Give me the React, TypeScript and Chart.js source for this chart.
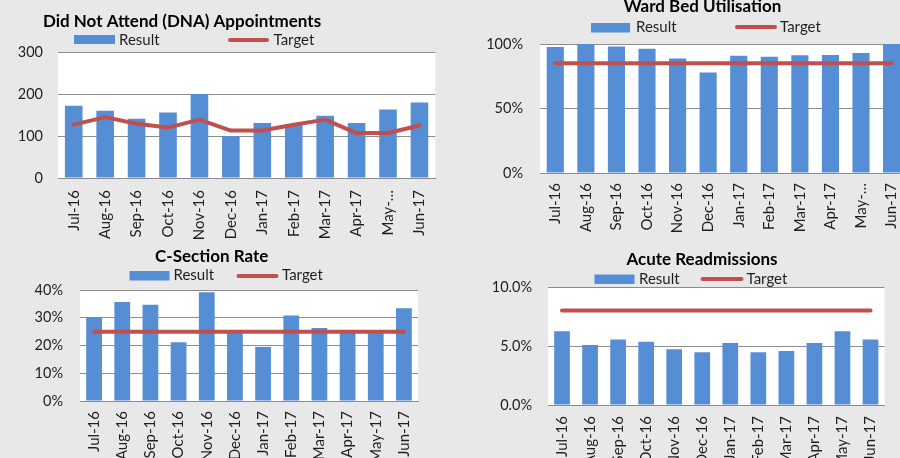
import React, { useEffect, useRef } from 'react';
import { Chart, registerables } from 'chart.js';

Chart.register(...registerables);

// ---------- data ----------
const categories = ['Jul-16', 'Aug-16', 'Sep-16', 'Oct-16', 'Nov-16', 'Dec-16', 'Jan-17', 'Feb-17', 'Mar-17', 'Apr-17', 'May-17', 'Jun-17'];
const tickLabelsTruncated = ['Jul-16', 'Aug-16', 'Sep-16', 'Oct-16', 'Nov-16', 'Dec-16', 'Jan-17', 'Feb-17', 'Mar-17', 'Apr-17', 'May-…', 'Jun-17'];

const dnaResult = [172, 160, 141, 156, 200, 100, 131, 128, 148, 131, 163, 180];
const dnaTarget = [127, 145, 129, 120, 139, 113, 113, 127, 139, 107, 107, 125];
const dnaTicks = [0, 100, 200, 300];

const bedResult = [97.7, 100, 98, 96.4, 88.8, 77.9, 90.9, 90.1, 91.2, 91.4, 93, 100];
const bedTarget = [85, 85, 85, 85, 85, 85, 85, 85, 85, 85, 85, 85];
const bedTicks = [0, 50, 100];

const csResult = [30.1, 35.7, 34.7, 21.2, 39.2, 25.6, 19.5, 30.8, 26.3, 24.6, 24.8, 33.4];
const csTarget = [25, 25, 25, 25, 25, 25, 25, 25, 25, 25, 25, 25];
const csTicks = [0, 10, 20, 30, 40];

const readmResult = [6.24, 5.08, 5.56, 5.37, 4.72, 4.47, 5.25, 4.47, 4.58, 5.25, 6.26, 5.56];
const readmTarget = [8, 8, 8, 8, 8, 8, 8, 8, 8, 8, 8, 8];
const readmTicks = [0, 5, 10];

// ---------- style ----------
const FONT = 'Lato, "Liberation Sans", sans-serif';
const BLUE = '#558ed5';
const RED = '#c0504d';
const GRID = '#8c8c8c';
const TEXT = '#1f1f1f';
const TITLE_SIZE = 17;
const LEGEND_SIZE = 15;
const XTICK_SIZE = 15;
const YTICK_SIZE = 14.5;

type Spec = {
  title: string;
  labels: string[];
  result: number[];
  target: number[];
  yTicks: number[];
  yFormat: (v: number) => string;
  canvas: { x: number; y: number; w: number; h: number };
  plot: { l: number; t: number; r: number; b: number };
  yGap: number;
  xGap: number;
  head: {
    titleX: number; titleBase: number;
    rx: number; ry: number; rw: number; rh: number;
    resultTextX: number; textBase: number;
    lx1: number; lx2: number; ly: number;
    targetTextX: number;
  };
};

const specs: Spec[] = [
  {
    title: 'Did Not Attend (DNA) Appointments',
    labels: tickLabelsTruncated, result: dnaResult, target: dnaTarget, yTicks: dnaTicks,
    yFormat: (v) => String(v),
    canvas: { x: 0, y: 0, w: 450, h: 240 },
    plot: { l: 58, t: 52, r: 437, b: 178 },
    yGap: 15, xGap: 12,
    head: { titleX: 182, titleBase: 27.3, rx: 74, ry: 35, rw: 41, rh: 9, resultTextX: 119, textBase: 44.5, lx1: 230, lx2: 267, ly: 40, targetTextX: 273.5 },
  },
  {
    title: 'Ward Bed Utilisation',
    labels: tickLabelsTruncated, result: bedResult, target: bedTarget, yTicks: bedTicks,
    yFormat: (v) => v + '%',
    canvas: { x: 450, y: 0, w: 470, h: 240 },
    plot: { l: 540, t: 44, r: 910, b: 173 },
    yGap: 17, xGap: 10,
    head: { titleX: 702.5, titleBase: 11.7, rx: 591, ry: 23, rw: 39, rh: 9.5, resultTextX: 636, textBase: 31.8, lx1: 737, lx2: 775, ly: 27, targetTextX: 780 },
  },
  {
    title: 'C-Section Rate',
    labels: categories, result: csResult, target: csTarget, yTicks: csTicks,
    yFormat: (v) => v + '%',
    canvas: { x: 0, y: 240, w: 450, h: 240 },
    plot: { l: 80, t: 290, r: 418, b: 401 },
    yGap: 17, xGap: 10,
    head: { titleX: 211.7, titleBase: 261.7, rx: 129.5, ry: 271, rw: 40, rh: 9.5, resultTextX: 173.5, textBase: 280, lx1: 238.5, lx2: 276.5, ly: 276, targetTextX: 282 },
  },
  {
    title: 'Acute Readmissions',
    labels: categories, result: readmResult, target: readmTarget, yTicks: readmTicks,
    yFormat: (v) => v.toFixed(1) + '%',
    canvas: { x: 450, y: 240, w: 450, h: 240 },
    plot: { l: 548, t: 287, r: 888, b: 405 },
    yGap: 16, xGap: 11,
    head: { titleX: 702, titleBase: 265, rx: 594.5, ry: 274.5, rw: 40, rh: 9.5, resultTextX: 639, textBase: 284, lx1: 702.5, lx2: 741.5, ly: 279, targetTextX: 746.5 },
  },
];

function headerPlugin(spec: Spec) {
  const ox = spec.canvas.x;
  const oy = spec.canvas.y;
  return {
    id: 'excelHeader',
    beforeDraw(chart: any) {
      const { ctx, chartArea: a } = chart;
      ctx.save();
      ctx.fillStyle = '#ffffff';
      ctx.fillRect(a.left, a.top, a.right - a.left, a.bottom - a.top);
      ctx.restore();
    },
    afterDraw(chart: any) {
      const ctx: CanvasRenderingContext2D = chart.ctx;
      const h = spec.head;
      ctx.save();
      ctx.textBaseline = 'alphabetic';
      // title
      ctx.fillStyle = '#000000';
      ctx.font = 'bold ' + TITLE_SIZE + 'px ' + FONT;
      ctx.textAlign = 'center';
      ctx.fillText(spec.title, h.titleX - ox, h.titleBase - oy);
      // legend
      ctx.font = LEGEND_SIZE + 'px ' + FONT;
      ctx.textAlign = 'left';
      ctx.fillStyle = BLUE;
      ctx.fillRect(h.rx - ox, h.ry - oy, h.rw, h.rh);
      ctx.fillStyle = TEXT;
      ctx.fillText('Result', h.resultTextX - ox, h.textBase - oy);
      ctx.strokeStyle = RED;
      ctx.lineWidth = 4;
      ctx.lineCap = 'round';
      ctx.beginPath();
      ctx.moveTo(h.lx1 - ox, h.ly - oy);
      ctx.lineTo(h.lx2 - ox, h.ly - oy);
      ctx.stroke();
      ctx.fillText('Target', h.targetTextX - ox, h.textBase - oy);
      ctx.restore();
    },
  };
}

function ExcelChart({ spec }: { spec: Spec }) {
  const ref = useRef<HTMLCanvasElement>(null);
  const c = spec.canvas;
  const p = spec.plot;
  useEffect(() => {
    const chart = new Chart(ref.current as HTMLCanvasElement, {
      type: 'bar',
      data: {
        labels: spec.labels,
        datasets: [
          {
            type: 'line',
            label: 'Target',
            data: spec.target,
            borderColor: RED,
            backgroundColor: RED,
            borderWidth: 4,
            pointRadius: 0,
            tension: 0,
            fill: false,
            borderCapStyle: 'round',
            borderJoinStyle: 'round',
            order: 0,
          } as any,
          {
            type: 'bar',
            label: 'Result',
            data: spec.result,
            backgroundColor: BLUE,
            barPercentage: 0.56,
            categoryPercentage: 1,
            order: 1,
          } as any,
        ],
      },
      options: {
        responsive: false,
        maintainAspectRatio: false,
        animation: false,
        devicePixelRatio: 1,
        layout: { padding: { left: 0, top: p.t - c.y, right: c.x + c.w - p.r, bottom: 0 } },
        plugins: {
          legend: { display: false },
          title: { display: false },
          tooltip: { enabled: false },
        },
        scales: {
          x: {
            grid: { display: false, drawTicks: false },
            border: { display: true, color: GRID, width: 1 },
            ticks: {
              maxRotation: 90,
              minRotation: 90,
              autoSkip: false,
              padding: spec.xGap,
              color: TEXT,
              font: { family: FONT, size: XTICK_SIZE },
            },
            afterFit: (s: any) => { s.height = c.y + c.h - p.b; },
          },
          y: {
            min: spec.yTicks[0],
            max: spec.yTicks[spec.yTicks.length - 1],
            grid: { color: GRID, drawTicks: false, lineWidth: 1 },
            border: { display: false },
            ticks: {
              padding: spec.yGap,
              color: TEXT,
              font: { family: FONT, size: YTICK_SIZE },
              callback: (v: any) => spec.yFormat(Number(v)),
            },
            afterBuildTicks: (s: any) => { s.ticks = spec.yTicks.map((v) => ({ value: v })); },
            afterFit: (s: any) => { s.width = p.l - c.x; },
          },
        },
      } as any,
      plugins: [headerPlugin(spec)],
    });
    return () => chart.destroy();
  }, []);
  return (
    <canvas
      ref={ref}
      width={c.w}
      height={c.h}
      style={{ position: 'absolute', left: c.x, top: c.y, width: c.w, height: c.h }}
    />
  );
}

export default function App() {
  return (
    <div
      style={{
        position: 'absolute', left: 0, top: 0, width: 900, height: 458,
        overflow: 'hidden', background: '#e8e8e8',
      }}
    >
      {specs.map((s) => (
        <ExcelChart key={s.title} spec={s} />
      ))}
    </div>
  );
}
